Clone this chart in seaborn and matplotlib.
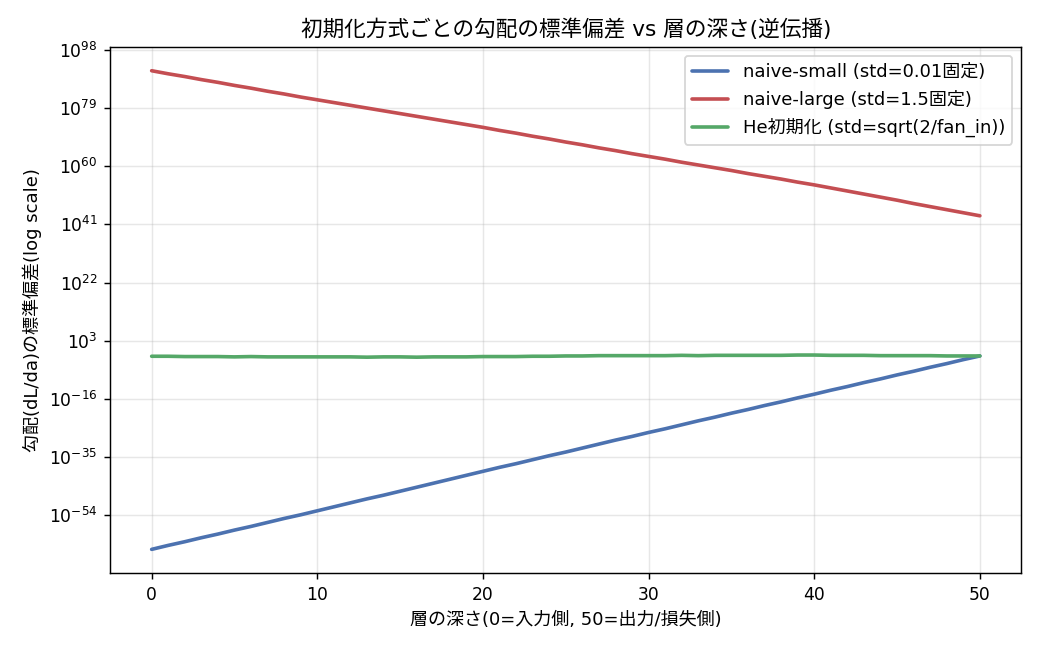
import numpy as np
import pandas as pd
import matplotlib
matplotlib.use("Agg")
import matplotlib.pyplot as plt
from matplotlib.ticker import FixedLocator
import seaborn as sns

layers = list(range(51))

naive_small_log10 = [
    -65.2, -63.9, -62.7, -61.4, -60.2, -58.9, -57.7, -56.4, -55.1, -53.9,
    -52.6, -51.3, -50.0, -48.7, -47.5, -46.2, -44.9, -43.6, -42.3, -41.0,
    -39.7, -38.4, -37.2, -35.9, -34.6, -33.4, -32.1, -30.8, -29.5, -28.3,
    -27.0, -25.8, -24.5, -23.2, -22.0, -20.7, -19.5, -18.2, -17.0, -15.7,
    -14.5, -13.2, -12.0, -10.7, -9.5, -8.2, -7.0, -5.7, -4.5, -3.2,
    -2.0,
]
naive_large_log10 = [
    91.2, 90.2, 89.3, 88.3, 87.4, 86.4, 85.5, 84.5, 83.6, 82.6,
    81.7, 80.8, 79.9, 79.0, 78.1, 77.2, 76.3, 75.4, 74.5, 73.6,
    72.7, 71.7, 70.8, 69.8, 68.9, 67.9, 67.0, 66.0, 65.1, 64.1,
    63.2, 62.3, 61.3, 60.4, 59.5, 58.6, 57.6, 56.7, 55.8, 54.8,
    53.9, 52.9, 51.9, 50.9, 49.9, 48.9, 47.8, 46.8, 45.8, 44.8,
    43.8,
]
he_log10 = [
    -2.1, -2.1, -2.2, -2.2, -2.2, -2.3, -2.2, -2.3, -2.3, -2.3,
    -2.3, -2.3, -2.3, -2.4, -2.3, -2.3, -2.4, -2.3, -2.3, -2.3,
    -2.2, -2.2, -2.2, -2.1, -2.1, -2.0, -2.0, -1.9, -1.9, -1.9,
    -1.9, -1.9, -1.8, -1.9, -1.8, -1.8, -1.8, -1.8, -1.8, -1.7,
    -1.7, -1.8, -1.8, -1.8, -1.9, -1.9, -1.9, -1.9, -2.0, -2.0,
    -2.0,
]

ytick_exponents = [-54, -35, -16, 3, 22, 41, 60, 79, 98]

labels = [
    "naive-small (std=0.01固定)",
    "naive-large (std=1.5固定)",
    "He初期化 (std=sqrt(2/fan_in))",
]

sns.set_theme(style="ticks", palette="deep")
plt.rcParams["font.family"] = ["DejaVu Sans", "Noto Sans CJK JP"]
plt.rcParams["text.color"] = "black"
plt.rcParams["axes.labelcolor"] = "black"

fig, ax = plt.subplots(figsize=(8, 5), dpi=130)
fig.subplots_adjust(left=0.106, right=0.982, top=0.928, bottom=0.118)

colors = sns.color_palette("deep")
series = [naive_small_log10, naive_large_log10, he_log10]
cols = [colors[0], colors[3], colors[2]]
for vals, lab, c in zip(series, labels, cols):
    df = pd.DataFrame({"layer": layers, "std": np.power(10.0, np.array(vals))})
    sns.lineplot(data=df, x="layer", y="std", ax=ax, label=lab, color=c, linewidth=2.0)

ax.set_yscale("log")
ax.yaxis.set_major_locator(FixedLocator([10.0 ** e for e in ytick_exponents]))
ax.yaxis.set_minor_locator(FixedLocator([]))
ax.grid(True, alpha=0.3, color="#b0b0b0", linewidth=0.8)
for s in ax.spines.values():
    s.set_color("black")
    s.set_linewidth(0.8)
ax.tick_params(axis="both", labelsize=9.5, colors="black", length=3.5, width=0.8)
ax.set_title("初期化方式ごとの勾配の標準偏差 vs 層の深さ(逆伝播)", fontsize=12, pad=6, color="black")
ax.set_xlabel("層の深さ(0=入力側, 50=出力/損失側)", fontsize=10, color="black")
ax.set_ylabel("勾配(dL/da)の標準偏差(log scale)", fontsize=10, color="black")
leg = ax.legend(loc="upper right", fontsize=10, frameon=True)
leg.get_frame().set_edgecolor("#cccccc")
for t in leg.get_texts():
    t.set_color("black")

fig.savefig("out.png", dpi=130)
